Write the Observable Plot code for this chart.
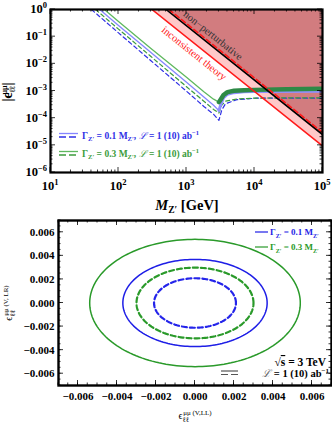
<!DOCTYPE html>
<html><head><meta charset="utf-8">
<script src="https://cdn.jsdelivr.net/npm/d3@7"></script>
<script src="https://cdn.jsdelivr.net/npm/@observablehq/plot@0.6"></script>
<style>
html,body{margin:0;padding:0;background:#fff;}
#c{width:332px;}
#c svg{display:block;}
</style>
</head><body><div id="c"></div>
<script>
// ---------- DATA: top panel (|eps| vs M_Z' in GeV) ----------
const xTicksTop = [10, 100, 1000, 10000, 100000];
const yTicksTop = [1e-6, 1e-5, 1e-4, 1e-3, 1e-2, 1e-1, 1];

const blueDashedM   = [40, 100, 300, 1000, 1800, 2500, 3000, 3300, 3750, 5500, 11000, 100000];
const blueDashedEps = [1, 0.138, 0.013, 9.8e-4, 2.7e-4, 1.4e-4, 8.3e-5, 2.0e-4, 3.4e-4, 4.8e-4, 5.5e-4, 5.5e-4];

const greenDashedM   = [46, 100, 300, 1000, 1800, 2500, 3000, 3300, 3750, 5500, 11000, 100000];
const greenDashedEps = [1, 0.19, 0.0186, 1.44e-3, 4.2e-4, 2.1e-4, 1.55e-4, 3.0e-4, 4.2e-4, 5.1e-4, 5.5e-4, 5.6e-4];

const blueSolidM   = [53, 100, 300, 1000, 1800, 2500, 3000, 3200, 3500, 4000, 5000, 7000, 10000, 100000];
const blueSolidEps = [1, 0.26, 0.026, 2.1e-3, 6.0e-4, 3.0e-4, 1.9e-4, 3.2e-4, 5.6e-4, 7.6e-4, 8.7e-4, 9.3e-4, 9.5e-4, 9.8e-4];

const greenSolidM   = [62, 100, 300, 1000, 1800, 2500, 3000, 3200, 3500, 4000, 5000, 7000, 10000, 30000, 100000];
const greenSolidEps = [1, 0.36, 0.037, 3.2e-3, 9.3e-4, 5.0e-4, 3.9e-4, 5.0e-4, 7.1e-4, 9.1e-4, 1.02e-3, 1.07e-3, 1.1e-3, 1.15e-3, 1.2e-3];

// theory bounds
const redSolidM = [310, 100000],  redSolidEps = [1, 9.6e-6];   // inconsistent theory
const blackM    = [500, 100000],  blackEps    = [1, 2.5e-5];   // non-perturbative
const redDashM  = [550, 100000],  redDashEps  = [1, 3.0e-5];

// ---------- DATA: bottom panel (ellipses, sqrt(s)=3 TeV) ----------
const ticksBottom = [-0.006, -0.004, -0.002, 0, 0.002, 0.004, 0.006];
const contourLabel = ["G0.3 L1", "G0.1 L1", "G0.3 L10", "G0.1 L10"];
const contourRadiusLL = [0.0054, 0.0037, 0.0030, 0.0021];
const contourRadiusLR = [0.0054, 0.0037, 0.0030, 0.0021];

// ---------- helpers ----------
const pts = (M, E) => M.map((m, i) => ({m, e: E[i]}));
const SERIF = "Liberation Serif, Times New Roman, serif";

function richText(g, x, y, segs, o) {
  const t = g.append("text").attr("x", x).attr("y", y)
    .attr("font-family", o.family || SERIF)
    .attr("font-size", o.size).attr("font-weight", o.weight || "normal")
    .attr("fill", o.fill || "black").attr("text-anchor", o.anchor || "start")
    .attr("stroke", "none");
  if (o.rotate) t.attr("transform", `rotate(${o.rotate},${x},${y})`);
  let cur = 0;
  for (const s of segs) {
    const [txt, so] = typeof s === "string" ? [s, {}] : s;
    const target = so.dy || 0;
    const ts = t.append("tspan").text(txt).attr("dy", target - cur);
    cur = target;
    if (so.dx) ts.attr("dx", so.dx);
    if (so.size) ts.attr("font-size", so.size);
    if (so.style) ts.attr("font-style", so.style);
    if (so.weight) ts.attr("font-weight", so.weight);
    if (so.fill) ts.attr("fill", so.fill);
    if (so.family) ts.attr("font-family", so.family);
    if (so.deco) ts.attr("text-decoration", so.deco);
  }
  return t;
}

function drawTicks(svg, scale, vals, axis, len, xr, yr) {
  const g = svg.append("g").attr("stroke", "black").attr("stroke-width", 0.8);
  for (const v of vals) {
    const p = scale.apply(v);
    if (axis === "x") {
      g.append("line").attr("x1", p).attr("x2", p).attr("y1", yr[1]).attr("y2", yr[1] - len);
      g.append("line").attr("x1", p).attr("x2", p).attr("y1", yr[0]).attr("y2", yr[0] + len);
    } else {
      g.append("line").attr("y1", p).attr("y2", p).attr("x1", xr[0]).attr("x2", xr[0] + len);
      g.append("line").attr("y1", p).attr("y2", p).attr("x1", xr[1]).attr("x2", xr[1] - len);
    }
  }
}
const supExp = v => String(Math.round(Math.log10(v))).replace("-", "\u2212");

// ---------- TOP PANEL ----------
const yTop = yTicksTop[yTicksTop.length - 1];
const topPlot = Plot.plot({
  width: 332, height: 214,
  marginLeft: 50, marginRight: 10, marginTop: 9, marginBottom: 42,
  x: {type: "log", domain: [xTicksTop[0], xTicksTop[xTicksTop.length - 1]], axis: null},
  y: {type: "log", domain: [yTicksTop[0], yTop], axis: null},
  style: {background: "white", fontFamily: SERIF},
  marks: [
    Plot.areaY(pts(redSolidM, redSolidEps), {x: "m", y1: "e", y2: () => yTop, fill: "#ffc8c8", clip: true}),
    Plot.areaY(pts(blackM, blackEps), {x: "m", y1: "e", y2: () => yTop, fill: "#d27c7f", clip: true}),
    Plot.line(pts(blueSolidM, blueSolidEps), {x: "m", y: "e", stroke: "#8585ff", strokeWidth: 1.3, clip: true}),
    Plot.line(pts(greenSolidM, greenSolidEps), {x: "m", y: "e", stroke: "#5fb85f", strokeWidth: 1.3, clip: true}),
    Plot.line(pts(blueDashedM, blueDashedEps), {x: "m", y: "e", stroke: "#3030e6", strokeWidth: 1.2, strokeDasharray: "4,3", clip: true}),
    Plot.line(pts(greenDashedM, greenDashedEps), {x: "m", y: "e", stroke: "#3c9c3c", strokeWidth: 1.2, strokeDasharray: "4,3", clip: true}),
    Plot.line(pts(blueSolidM, blueSolidEps).filter(d => d.m >= 3000), {x: "m", y: "e", stroke: "#9090ff", strokeWidth: 3, clip: true}),
    Plot.line(pts(greenSolidM, greenSolidEps).filter(d => d.m >= 3000), {x: "m", y: "e", stroke: "#2e8a46", strokeWidth: 4.5, clip: true}),
    Plot.line(pts(redSolidM, redSolidEps), {x: "m", y: "e", stroke: "#ff1a1a", strokeWidth: 1.6, clip: true}),
    Plot.line(pts(blackM, blackEps), {x: "m", y: "e", stroke: "black", strokeWidth: 1.6, clip: true}),
    Plot.line(pts(redDashM, redDashEps), {x: "m", y: "e", stroke: "#ff1a1a", strokeWidth: 1.6, strokeDasharray: "5,3", clip: true}),
    Plot.frame({strokeWidth: 2.2})
  ]
});
document.getElementById("c").appendChild(topPlot);
{
  const svg = d3.select(topPlot);
  const sx = topPlot.scale("x"), sy = topPlot.scale("y");
  const xr = [Math.min(...sx.range), Math.max(...sx.range)];
  const yr = [Math.min(...sy.range), Math.max(...sy.range)];
  const minorX = [], minorY = [];
  for (let k = 1; k < 5; k++) for (let j = 2; j < 10; j++) minorX.push(j * 10 ** k);
  for (let k = -6; k < 0; k++) for (let j = 2; j < 10; j++) minorY.push(j * 10 ** k);
  drawTicks(svg, sx, xTicksTop, "x", 5, xr, yr);
  drawTicks(svg, sx, minorX, "x", 2.5, xr, yr);
  drawTicks(svg, sy, yTicksTop, "y", 5, xr, yr);
  drawTicks(svg, sy, minorY, "y", 2.5, xr, yr);
  for (const v of xTicksTop)
    richText(svg, sx.apply(v), yr[1] + 18, ["10", [supExp(v), {dy: -5, size: 8.5}]], {anchor: "middle", size: 12.5, weight: "bold"});
  for (const v of yTicksTop)
    richText(svg, xr[0] - 3, sy.apply(v) + 4, ["10", [supExp(v), {dy: -5, size: 8.5}]], {anchor: "end", size: 12.5, weight: "bold"});
  // axis titles
  richText(svg, 187, 210, [["M", {style: "italic"}], ["Z\u2032", {dy: 3, size: 9.5}], [" [GeV]", {dy: 0}]], {anchor: "middle", size: 14.5, weight: "bold"});
  richText(svg, 12, 92, ["|\u03F5", ["\u2113\u2113", {dy: 3, size: 8}], ["\u03BC\u03BC", {dy: -5, size: 8, dx: -8}], ["|", {dy: 0}]], {anchor: "middle", size: 14, weight: "bold", rotate: -90});
  // annotations
  richText(svg, 211, 38, ["non\u2212perturbative"], {anchor: "middle", size: 10.5, fill: "#333", rotate: 38.7});
  richText(svg, 192, 56, ["inconsistent theory"], {anchor: "middle", size: 10.5, fill: "#ff2020", rotate: 38.7});
  // legend
  const leg = [[135.5, "#3030e6", "#8585ff", "0.1"], [153.5, "#3c9c3c", "#5fb85f", "0.3"]];
  for (const [y, cd, cs, w] of leg) {
    svg.append("line").attr("x1", 59).attr("x2", 78).attr("y1", y - 2).attr("y2", y - 2).attr("stroke", cs).attr("stroke-width", 1.3);
    svg.append("line").attr("x1", 59).attr("x2", 78).attr("y1", y + 1.5).attr("y2", y + 1.5).attr("stroke", cd).attr("stroke-width", 1.3).attr("stroke-dasharray", "7,3");
    richText(svg, 82, y + 3, ["\u0393", ["Z\u2032", {dy: 2.5, size: 6.5}], [" = " + w + " M", {dy: 0}], ["Z\u2032", {dy: 2.5, size: 6.5}], [", ", {dy: 0}], ["\u2112", {style: "italic", weight: "normal"}], " = 1 (10) ab", ["\u22121", {dy: -3.5, size: 6.5}]],
      {size: 9.5, weight: "bold", fill: cd});
  }
}

// ---------- BOTTOM PANEL ----------
const ellipse = [];
contourLabel.forEach((id, i) => {
  for (let a = 0; a <= 360; a += 2) {
    const t = a * Math.PI / 180;
    ellipse.push({id, x: contourRadiusLL[i] * Math.cos(t), y: contourRadiusLR[i] * Math.sin(t)});
  }
});
const sel = id => ellipse.filter(d => d.id === id);
const fmt3 = d3.format(".3f");
const botPlot = Plot.plot({
  width: 332, height: 215,
  marginLeft: 58, marginRight: 1, marginTop: 6, marginBottom: 44,
  x: {domain: [-0.007, 0.007]},
  y: {domain: [-0.007, 0.007]},
  style: {background: "white", fontFamily: SERIF},
  marks: [
    Plot.line(sel(contourLabel[0]), {x: "x", y: "y", stroke: "#2a9a2a", strokeWidth: 1.5}),
    Plot.line(sel(contourLabel[1]), {x: "x", y: "y", stroke: "#1e1ee6", strokeWidth: 1.5}),
    Plot.line(sel(contourLabel[2]), {x: "x", y: "y", stroke: "#2a9a2a", strokeWidth: 2.2, strokeDasharray: "5,3"}),
    Plot.line(sel(contourLabel[3]), {x: "x", y: "y", stroke: "#2424ea", strokeWidth: 2.2, strokeDasharray: "5,3"}),
    Plot.frame({strokeWidth: 2.4}),
    Plot.axisX({ticks: ticksBottom, tickFormat: fmt3, tickSize: 0, tickPadding: 7, fontSize: 11, fontWeight: "bold", label: null}),
    Plot.axisY({ticks: ticksBottom, tickFormat: fmt3, tickSize: 0, tickPadding: 4, fontSize: 11, fontWeight: "bold", label: null})
  ]
});
document.getElementById("c").appendChild(botPlot);
{
  const svg = d3.select(botPlot);
  const sx = botPlot.scale("x"), sy = botPlot.scale("y");
  const xr = [Math.min(...sx.range), Math.max(...sx.range)];
  const yr = [Math.min(...sy.range), Math.max(...sy.range)];
  const minor = d3.range(-14, 15).map(k => k * 0.0005);
  drawTicks(svg, sx, ticksBottom, "x", 5, xr, yr);
  drawTicks(svg, sx, minor, "x", 2.5, xr, yr);
  drawTicks(svg, sy, ticksBottom, "y", 5, xr, yr);
  drawTicks(svg, sy, minor, "y", 2.5, xr, yr);
  // legend
  const leg = [[18, "#1e1ee6", "0.1"], [33, "#2a9a2a", "0.3"]];
  for (const [y, c, w] of leg) {
    svg.append("line").attr("x1", 255).attr("x2", 268).attr("y1", y).attr("y2", y).attr("stroke", c).attr("stroke-width", 1.2);
    richText(svg, 270, y + 3, ["\u0393", ["Z\u2032", {dy: 2.5, size: 6}], [" = " + w + " M", {dy: 0}], ["Z\u2032", {dy: 2.5, size: 6}]], {size: 9, weight: "bold", fill: c});
  }
  richText(svg, 326, 152, ["\u221A", ["s", {deco: "overline"}], " = 3 TeV"], {anchor: "end", size: 11.5, weight: "bold"});
  svg.append("line").attr("x1", 221).attr("x2", 238).attr("y1", 157).attr("y2", 157).attr("stroke", "#555").attr("stroke-width", 1.2);
  svg.append("line").attr("x1", 221).attr("x2", 238).attr("y1", 160.5).attr("y2", 160.5).attr("stroke", "#555").attr("stroke-width", 1.2).attr("stroke-dasharray", "7,3");
  richText(svg, 329, 163, [["\u2112", {style: "italic", weight: "normal", fill: "#666"}], " = 1 (10) ab", ["\u22121", {dy: -4, size: 7}]], {anchor: "end", size: 10.5, weight: "bold"});
  // axis titles
  richText(svg, 195, 205, ["\u03F5", ["\u2113\u2113", {dy: 2.5, size: 7}], ["\u03BC\u03BC (V,LL)", {dy: -4, size: 7, dx: -6}]], {anchor: "middle", size: 10});
  richText(svg, 12, 89, ["\u03F5", ["\u2113\u2113", {dy: 2.5, size: 7}], ["\u03BC\u03BC (V, LR)", {dy: -4, size: 7, dx: -6}]], {anchor: "middle", size: 10, rotate: -90});
}
</script></body></html>
